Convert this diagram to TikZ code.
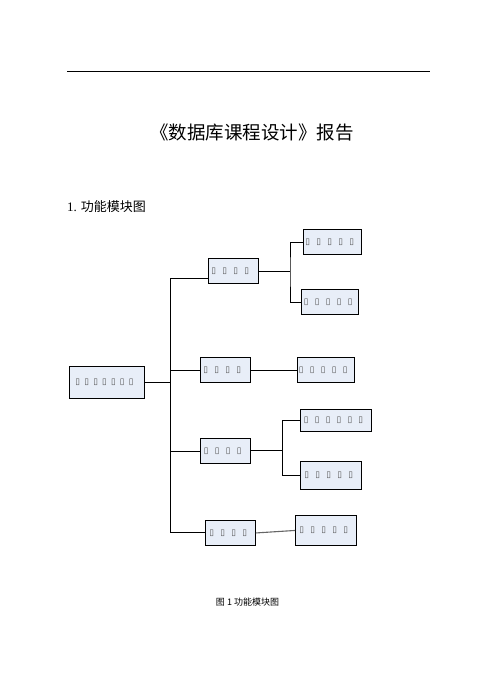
\documentclass[tikz,border=0pt]{standalone}
\usepackage{fontspec}
\setmainfont{Liberation Serif}
\newfontfamily\cjk{Noto Sans CJK SC}
\newfontfamily\dejavu{DejaVu Sans}
\definecolor{boxfill}{HTML}{E8EEF8}
\definecolor{glyphc}{HTML}{505050}
\newcommand\tfglyph[1]{\makebox[#1][l]{\color{glyphc}\dejavu\fontsize{8.5}{8.5}\selectfont ▯}}
\newcommand\tofus[3]{\hspace*{#2}\foreach \i in {1,...,#1}{\tfglyph{#3}}}
\tikzset{
  box/.style={draw=black, line width=0.9pt, fill=boxfill, inner sep=0pt, anchor=north west, align=left, font=\fontsize{8.5}{8.5}\selectfont},
  conn/.style={draw=black, line width=0.9pt},
}
\begin{document}
\begin{tikzpicture}[x=1pt,y=-1pt]
\useasboundingbox (0,0) rectangle (496,688);
\draw[line width=0.9pt] (67,71) -- (430,71);
\node[font=\cjk\fontsize{18.5}{18.5}\selectfont] (title) at (252,132) {《数据库课程设计》报告};
\node[anchor=west, inner sep=0pt] (head) at (67,207) {\fontsize{13}{13}\selectfont 1.\hspace{4pt}{\cjk 功能模块图}};
\node[font=\cjk\fontsize{9}{9}\selectfont] (cap) at (247.5,602) {图 1 功能模块图};

\node[box, minimum width=75pt, minimum height=32pt, text width=75pt] (root) at (69,366) {\tofus{7}{6pt}{8.9pt}};
\node[box, minimum width=50pt, minimum height=25pt, text width=50pt] (A) at (208,258) {\tofus{4}{3pt}{11pt}};
\node[box, minimum width=58pt, minimum height=25pt, text width=58pt] (A1) at (303,229) {\tofus{5}{2pt}{11pt}};
\node[box, minimum width=57pt, minimum height=25pt, text width=57pt] (A2) at (301,289) {\tofus{5}{2.5pt}{11pt}};
\node[box, minimum width=50pt, minimum height=25pt, text width=50pt] (B) at (200,357) {\tofus{4}{3pt}{11pt}};
\node[box, minimum width=57pt, minimum height=25pt, text width=57pt] (B1) at (297,357) {\tofus{5}{1.5pt}{11pt}};
\node[box, minimum width=71pt, minimum height=22pt, text width=71pt] (C1) at (300,409) {\tofus{6}{3.5pt}{10.9pt}};
\node[box, minimum width=50pt, minimum height=25pt, text width=50pt] (C) at (200,438) {\tofus{4}{3.5pt}{11pt}};
\node[box, minimum width=61pt, minimum height=28pt, text width=61pt] (C2) at (300,461) {\tofus{5}{4pt}{11pt}};
\node[box, minimum width=50pt, minimum height=25pt, text width=50pt] (D) at (205,520) {\tofus{4}{4pt}{11pt}};
\node[box, minimum width=61pt, minimum height=30pt, text width=61pt] (D1) at (295,515) {\tofus{5}{4pt}{11pt}};

\coordinate (t1) at (170.5,278);
\coordinate (t5) at (170.5,532.5);
\coordinate (ab) at (290,271.5);
\coordinate (cb) at (282.3,450.5);

\draw[conn] (root.east) -- (root.east -| t1);
\draw[conn] (t1) -- (t5);
\draw[conn] (t1) -- (t1 -| A.west);
\draw[conn] (B.west -| t1) -- (B.west);
\draw[conn] (C.west -| t1) -- (C.west);
\draw[conn] (t5) -- (t5 -| D.west);
\draw[conn] (ab -| A.east) -- (ab);
\draw[conn] (A1.west) -| (ab) |- (A2.west);
\draw[conn] (B.east) -- (B.east -| B1.west);
\draw[conn] (cb -| C.east) -- (cb);
\draw[conn] (C1.west) -| (cb) |- (C2.west);
\draw[draw=gray!80!black, line width=1.1pt] (D.east) -- (D1.west);
\end{tikzpicture}
\end{document}
